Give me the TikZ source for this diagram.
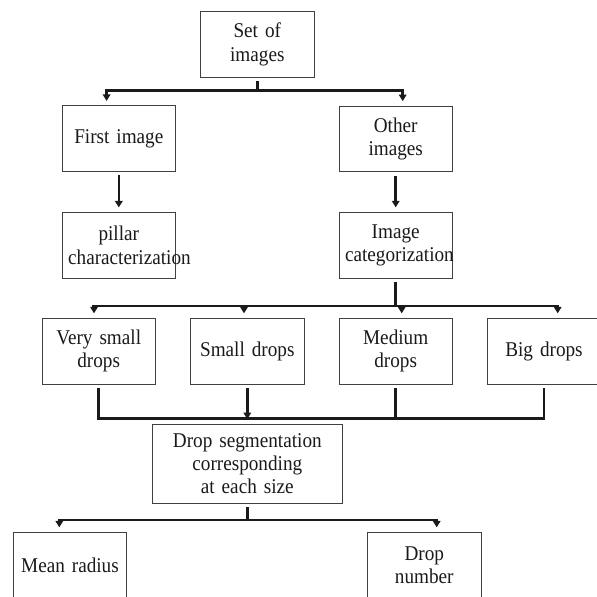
\documentclass[tikz,border=0pt]{standalone}
\usepackage{fontspec}
\setmainfont{Liberation Serif}[FakeStretch=0.914]
\usetikzlibrary{arrows.meta,calc}
\definecolor{boxc}{HTML}{404040}
\definecolor{linec}{HTML}{1A1A1A}
\definecolor{txtc}{HTML}{1A1A1A}
\begin{document}
\begin{tikzpicture}[x=1pt,y=-1pt,
 box/.style={draw=boxc, line width=0.9pt, minimum width=113.3pt, minimum height=65.8pt,
   text width=101.3pt, inner xsep=6pt, inner ysep=0pt, align=center,
   font=\fontsize{21}{23.3}\selectfont, text=txtc},
 conn/.style={draw=linec, line width=2.6pt},
 arr/.style={conn, -{Triangle[width=7.5pt,length=6.5pt]}, shorten >=4.5pt},
]
\useasboundingbox (0,0) rectangle (597,597);
\clip (0,0) rectangle (597,597);
\fill[white] (0,0) rectangle (597,597);
\node[box] (set) at (257.3,44.5) {Set of\\images};
\node[box] (first) at (118.8,138.8) {First image};
\node[box] (other) at (395.7,139) {Other\\images};
\node[box] (pillar) at (118.8,245.3) {pillar\\characterization};
\node[box] (imgcat) at (395.7,245.2) {Image\\categorization};
\node[box] (vsmall) at (98.7,351.2) {Very small\\drops};
\node[box] (small) at (247.3,351.2) {Small drops};
\node[box] (medium) at (395.7,351.2) {Medium\\drops};
\node[box] (big) at (544,351.2) {Big drops};
\node[box, minimum width=190pt, minimum height=79.3pt, text width=178pt] (seg) at (247.3,463.7) {Drop segmentation\\corresponding\\at each size};
\node[box] (mean) at (70,565.2) {Mean radius};
\node[box] (dnum) at (424.3,565.2) {Drop\\number};
% level 1
\coordinate (j1l) at (106.6,90.7);
\coordinate (j1r) at (402.7,90.7);
\draw[arr] ($(set.south)+(0,3.4)$) |- (j1l) -- (first.north -| j1l);
\draw[arr] ($(set.south)+(0,3.4)$) |- (j1r) -- (other.north -| j1r);
% level 2
\draw[arr] ($(first.south)+(0,3.3)$) -- (pillar.north);
\draw[arr] ($(other.south)+(0,3.3)$) -- (imgcat.north);
% level 3
\coordinate (j2l) at (91.7,305.8);
\coordinate (j2r) at (558.9,305.8);
\coordinate (a1) at (94,305.8);
\coordinate (a2) at (244,305.8);
\coordinate (a3) at (401.7,305.8);
\coordinate (a4) at (557.7,305.8);
\draw[conn] ($(imgcat.south)+(0,3.6)$) -- (imgcat.south |- j2l);
\draw[conn] (j2l) -- (j2r);
\draw[arr] (a1) -- (vsmall.north -| a1);
\draw[arr] (a2) -- (small.north -| a2);
\draw[arr] (a3) -- (medium.north -| a3);
\draw[arr] (a4) -- (big.north -| a4);
% merge
\coordinate (j3) at (247.3,418.7);
\draw[conn] ($(vsmall.south)+(0,3.3)$) |- (big.south |- j3) -- ($(big.south)+(0,3.3)$);
\draw[conn] ($(medium.south)+(0,3.3)$) -- (medium.south |- j3);
\draw[arr] ($(small.south)+(0,3.3)$) -- (seg.north);
% outputs
\coordinate (j4l) at (59.3,520);
\coordinate (j4r) at (436.7,520);
\draw[arr] ($(seg.south)+(0,3.6)$) |- (j4l) -- (mean.north -| j4l);
\draw[arr] ($(seg.south)+(0,3.6)$) |- (j4r) -- (dnum.north -| j4r);
\end{tikzpicture}
\end{document}
